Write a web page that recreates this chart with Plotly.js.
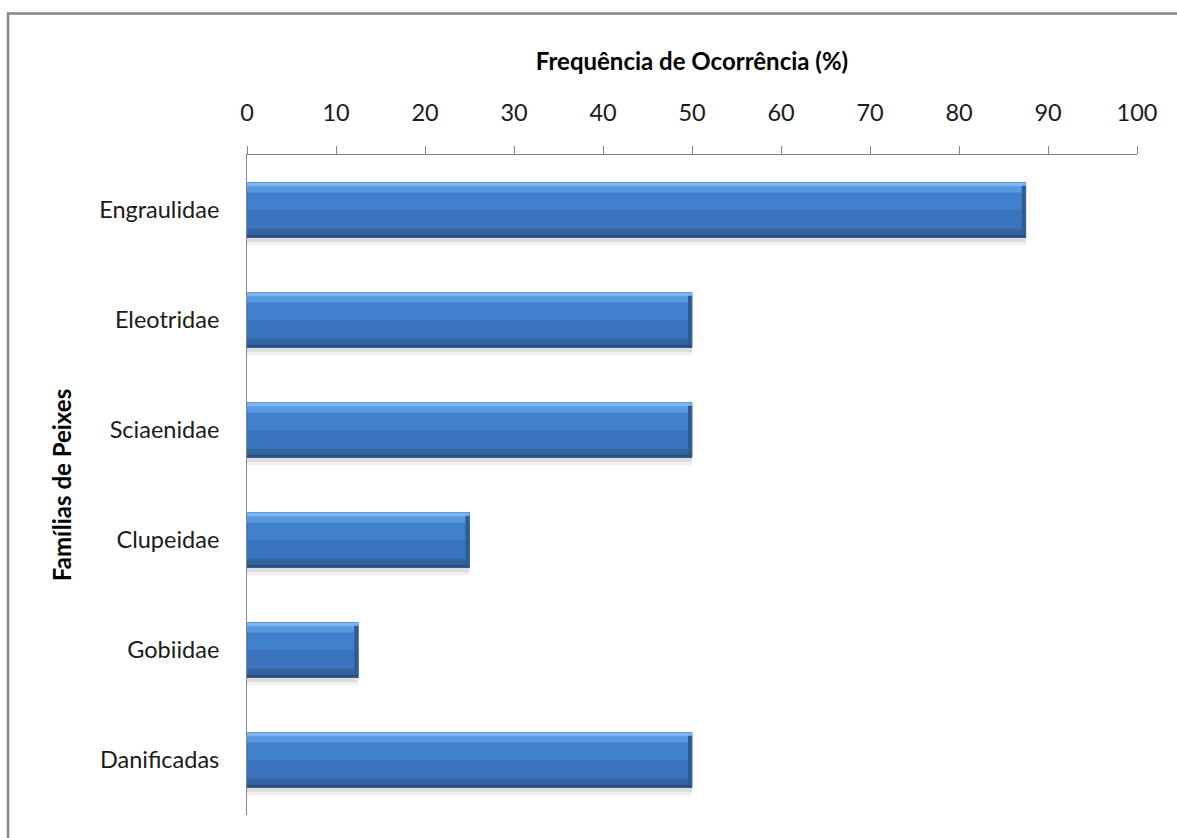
<!DOCTYPE html>
<html>
<head>
<meta charset="utf-8">
<script src="https://cdn.plot.ly/plotly-3.0.1.min.js"></script>
<style>
  html, body { margin: 0; padding: 0; background: #ffffff; }
  #chart { width: 1177px; height: 838px; }
</style>
</head>
<body>
<div id="chart"></div>
<script>
// Fish families and their frequency of occurrence (%)
const familias = ["Engraulidae", "Eleotridae", "Sciaenidae", "Clupeidae", "Gobiidae", "Danificadas"];
const frequencia = [87.5, 50, 50, 25, 12.5, 50];
const xTicks = [0, 10, 20, 30, 40, 50, 60, 70, 80, 90, 100];

const FONT = "Lato, 'Open Sans', sans-serif";

// Helper for the layered bevelled bar look: each layer uses the same data
function layer(color, width, offset, line) {
  return {
    type: "bar",
    orientation: "h",
    x: frequencia,
    y: familias,
    width: width,
    offset: offset,
    marker: { color: color, line: line || { width: 0 } },
    hoverinfo: "x+y",
    showlegend: false
  };
}

// darker bevel at the right end of each bar
const endCap = {
  type: "bar",
  orientation: "h",
  x: frequencia.map(() => 0.45),
  base: frequencia.map(v => v - 0.45),
  y: familias,
  width: 0.44,
  offset: -0.22,
  marker: { color: "#2e5c97", line: { width: 0 } },
  hoverinfo: "skip",
  showlegend: false
};

const traces = [
  layer("rgba(0,0,0,0.06)", 0.54, -0.22),                 // soft drop shadow
  layer("rgba(0,0,0,0.08)", 0.52, -0.23),
  layer("#4180cd", 0.5, -0.25, { width: 0.8, color: "#3466a6" }), // bar body
  layer("#3b74be", 0.22, 0.0),                            // lower half of body
  layer("#5a99e2", 0.06, -0.22),                          // bevel blend
  layer("#7cb5ef", 0.035, -0.25),                         // light top edge
  layer("#33649f", 0.06, 0.17),                           // darker lower bevel
  layer("#284d7e", 0.025, 0.225),                         // bottom edge
  endCap
];

const layout = {
  width: 1177,
  height: 838,
  margin: { l: 247, r: 40, t: 155, b: 23 },
  paper_bgcolor: "#ffffff",
  plot_bgcolor: "#ffffff",
  barmode: "overlay",
  font: { family: FONT, size: 24, color: "#000000" },
  xaxis: {
    side: "top",
    range: [0, 100],
    tickvals: xTicks,
    ticktext: xTicks.map(String),
    ticks: "outside",
    ticklen: 8,
    tickcolor: "#868686",
    tickwidth: 1,
    showline: true,
    linecolor: "#868686",
    linewidth: 1,
    showgrid: false,
    zeroline: false,
    tickfont: { family: FONT, size: 23.5, color: "#1a1a1a" },
    ticklabelstandoff: 16,
    title: {
      text: "<b>Frequência de Ocorrência (%)</b>",
      font: { family: FONT, size: 24, color: "#000000" },
      standoff: 20
    }
  },
  yaxis: {
    type: "category",
    categoryorder: "array",
    categoryarray: familias,
    autorange: "reversed",
    showline: true,
    linecolor: "#868686",
    linewidth: 1,
    ticks: "",
    showgrid: false,
    zeroline: false,
    tickfont: { family: FONT, size: 23.5, color: "#1a1a1a" },
    ticklabelstandoff: 22,
    title: {
      text: "<b>Famílias de Peixes</b>",
      font: { family: FONT, size: 24, color: "#000000" },
      standoff: 20
    }
  },
  shapes: [
    // outer frame (left and top edges visible)
    {
      type: "path", xref: "paper", yref: "paper",
      path: "M -0.2685 -0.06 L -0.2685 1.2145 L 1.08 1.2145",
      line: { color: "#878787", width: 2.5 },
      fillcolor: "rgba(0,0,0,0)"
    }
  ]
};

Plotly.newPlot("chart", traces, layout, { displayModeBar: false, staticPlot: true });
</script>
</body>
</html>
